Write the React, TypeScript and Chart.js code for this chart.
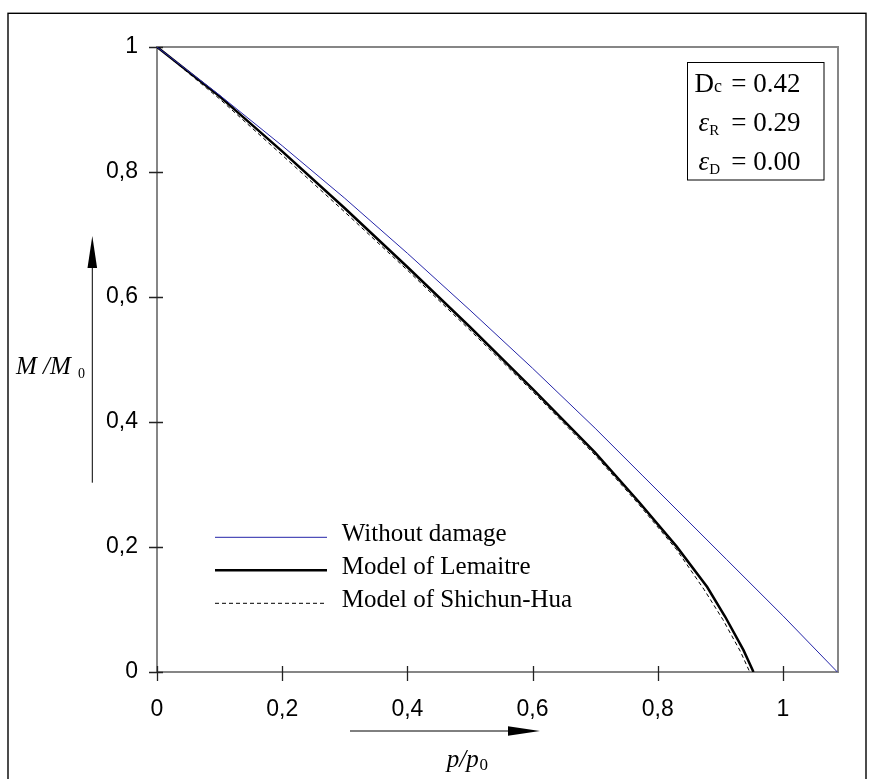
import React, { useEffect, useRef } from 'react';
import { Chart, registerables } from 'chart.js';

Chart.register(...registerables);

// ---- data ----
const withoutDamageP = [0, 0.1, 0.2, 0.3, 0.4, 0.5, 0.6, 0.7, 0.775, 0.85, 0.91, 1.0, 1.087];
const withoutDamageM = [1, 0.923, 0.842, 0.758, 0.67, 0.579, 0.486, 0.39, 0.315, 0.24, 0.18, 0.09, 0];

const lemaitreP = [0, 0.1, 0.2, 0.3, 0.4, 0.5, 0.6, 0.7, 0.77, 0.83, 0.879, 0.908, 0.937, 0.953];
const lemaitreM = [1, 0.921, 0.833, 0.742, 0.648, 0.552, 0.453, 0.351, 0.272, 0.201, 0.136, 0.088, 0.035, 0];

const shichunP = [0, 0.1, 0.2, 0.3, 0.4, 0.5, 0.6, 0.7, 0.77, 0.83, 0.874, 0.904, 0.932, 0.947];
const shichunM = [1, 0.917, 0.827, 0.736, 0.643, 0.547, 0.449, 0.347, 0.268, 0.196, 0.132, 0.084, 0.033, 0];

const seriesLabels = ['Without damage', 'Model of Lemaitre', 'Model of Shichun-Hua'];
const xTicks = [0, 0.2, 0.4, 0.6, 0.8, 1];
const yTicks = [0, 0.2, 0.4, 0.6, 0.8, 1];
const X_MIN = 0;
const X_MAX = 1.088;
const Y_MIN = 0;
const Y_MAX = 1;

const boxLines = [
  { main: 'D', sub: 'c', value: '= 0.42' },
  { main: 'ε', sub: 'R', value: '= 0.29' },
  { main: 'ε', sub: 'D', value: '= 0.00' },
];

const fmt = (v: number) => {
  const r = Math.round(v * 10) / 10;
  return r === 0 ? '0' : String(r).replace('.', ',');
};

const toPts = (xs: number[], ys: number[]) => xs.map((x, i) => ({ x, y: ys[i] }));

const SANS = '"Liberation Sans", Arial, sans-serif';
const SERIF = '"Liberation Serif", "Times New Roman", serif';

// legend sample geometry
const LEG_X1 = 215;
const LEG_X2 = 327;
const LEG_Y = [537.3, 570.3, 603.3];
const LEG_TEXT_X = 341.7;

const framePlugin = {
  id: 'frameAndTicks',
  beforeDatasetsDraw(chart: any) {
    const { ctx, chartArea: a, scales } = chart;
    ctx.save();
    ctx.strokeStyle = '#868686';
    ctx.lineWidth = 2;
    ctx.strokeRect(a.left, a.top, a.right - a.left, a.bottom - a.top);
    ctx.strokeStyle = '#222';
    ctx.lineWidth = 1.3;
    ctx.beginPath();
    yTicks.forEach((v) => {
      const y = Math.round(scales.y.getPixelForValue(v)) + 0.5;
      ctx.moveTo(a.left - 8, y);
      ctx.lineTo(a.left + 6, y);
    });
    xTicks.forEach((v) => {
      const x = Math.round(scales.x.getPixelForValue(v)) + 0.5;
      ctx.moveTo(x, a.bottom - 6);
      ctx.lineTo(x, a.bottom + 9);
    });
    ctx.stroke();
    ctx.restore();
  },
  afterDatasetsDraw(chart: any) {
    const { ctx } = chart;
    ctx.save();
    chart.data.datasets.forEach((ds: any, i: number) => {
      ctx.strokeStyle = ds.borderColor;
      ctx.lineWidth = ds.borderWidth;
      ctx.setLineDash(ds.borderDash || []);
      ctx.beginPath();
      ctx.moveTo(LEG_X1, LEG_Y[i]);
      ctx.lineTo(LEG_X2, LEG_Y[i]);
      ctx.stroke();
    });
    ctx.restore();
  },
};

export default function App() {
  const ref = useRef<HTMLCanvasElement | null>(null);

  useEffect(() => {
    if (!ref.current) return;
    const chart = new Chart(ref.current, {
      type: 'scatter',
      data: {
        datasets: [
          {
            label: seriesLabels[0],
            data: toPts(withoutDamageP, withoutDamageM),
            showLine: true,
            borderColor: '#2424a8',
            borderWidth: 1,
            pointRadius: 0,
            tension: 0,
          },
          {
            label: seriesLabels[1],
            data: toPts(lemaitreP, lemaitreM),
            showLine: true,
            borderColor: '#000',
            borderWidth: 2.5,
            pointRadius: 0,
            tension: 0,
          },
          {
            label: seriesLabels[2],
            data: toPts(shichunP, shichunM),
            showLine: true,
            borderColor: '#000',
            borderWidth: 1,
            borderDash: [4, 3],
            pointRadius: 0,
            tension: 0,
          },
        ],
      },
      options: {
        animation: false,
        responsive: false,
        devicePixelRatio: 1,
        layout: { padding: { left: 97, top: 47, right: 36, bottom: 57 } },
        plugins: { legend: { display: false }, tooltip: { enabled: false } },
        scales: {
          x: {
            type: 'linear',
            min: X_MIN,
            max: X_MAX,
            grid: { display: false, drawTicks: false },
            border: { display: false },
            afterBuildTicks: (s: any) => {
              s.ticks = xTicks.map((v) => ({ value: v }));
            },
            afterFit: (s: any) => {
              s.height = 50;
            },
            ticks: {
              callback: (v: any) => fmt(Number(v)),
              color: '#000',
              padding: 24,
              maxRotation: 0,
              autoSkip: false,
              font: { family: SANS, size: 23 },
            },
          },
          y: {
            type: 'linear',
            min: Y_MIN,
            max: Y_MAX,
            grid: { display: false, drawTicks: false },
            border: { display: false },
            afterBuildTicks: (s: any) => {
              s.ticks = yTicks.map((v) => ({ value: v }));
            },
            afterFit: (s: any) => {
              s.width = 60;
            },
            ticks: {
              callback: (v: any) => fmt(Number(v)),
              color: '#000',
              padding: 19,
              autoSkip: false,
              font: { family: SANS, size: 23 },
            },
          },
        },
      },
      plugins: [framePlugin],
    } as any);
    return () => chart.destroy();
  }, []);

  return (
    <div>
      <canvas
        ref={ref}
        width={874}
        height={779}
        style={{ position: 'fixed', left: 0, top: 0, width: 874, height: 779 }}
      />
      <svg
        width={874}
        height={779}
        style={{ position: 'fixed', left: 0, top: 0, pointerEvents: 'none' }}
      >
        <rect x={8} y={13.3} width={858} height={820} fill="none" stroke="#000" strokeWidth={1.4} />

        {/* parameter box */}
        <rect x={687.5} y={62.5} width={136.5} height={117.5} fill="#fff" stroke="#000" strokeWidth={1} />
        {boxLines.map((l, i) => {
          const y = [91.7, 131.2, 170.2][i];
          return (
            <g key={i} fontFamily={SERIF} fill="#000">
              <text x={i === 0 ? 694.5 : 698.5} y={y} fontSize={27}>
                <tspan fontStyle={i === 0 ? 'normal' : 'italic'}>{l.main}</tspan>
                <tspan fontSize={i === 0 ? 18 : 15} dy={i === 0 ? 0 : 3.5}>{l.sub}</tspan>
              </text>
              <text x={800.5} y={y} fontSize={27} textAnchor="end">{l.value}</text>
            </g>
          );
        })}

        {/* legend labels */}
        {seriesLabels.map((s, i) => (
          <text key={s} x={LEG_TEXT_X} y={LEG_Y[i] + 3.4} fontFamily={SERIF} fontSize={25} fill="#000">
            {s}
          </text>
        ))}

        {/* y axis title with arrow */}
        <text x={16} y={374} fontFamily={SERIF} fontSize={25} fontStyle="italic" fill="#000">M /M</text>
        <text x={78} y={378} fontFamily={SERIF} fontSize={14} fill="#000">0</text>
        <line x1={92.3} y1={482.7} x2={92.3} y2={262} stroke="#000" strokeWidth={1} />
        <polygon points="92.3,236 87.5,268 97.1,268" fill="#000" />

        {/* x axis title with arrow */}
        <line x1={350} y1={731} x2={515} y2={731} stroke="#000" strokeWidth={1} />
        <polygon points="540,731 508,726.2 508,735.8" fill="#000" />
        <text x={446.7} y={766.7} fontFamily={SERIF} fontSize={25} fontStyle="italic" fill="#000">p/p</text>
        <text x={479.5} y={769.5} fontFamily={SERIF} fontSize={17} fill="#000">0</text>
      </svg>
    </div>
  );
}
